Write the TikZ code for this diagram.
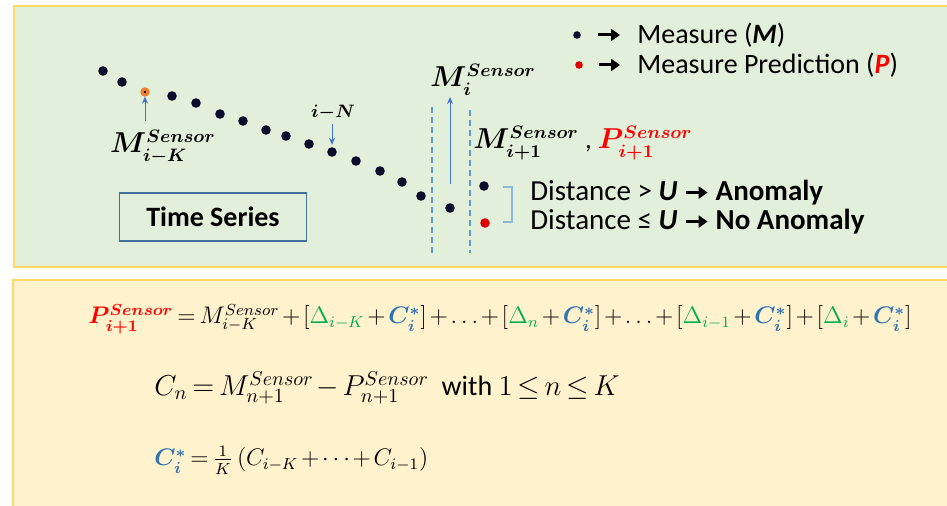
\documentclass[tikz,border=0pt]{standalone}
\usepackage{fontspec}
\setmainfont{Carlito}
\usepackage{amsmath, amssymb}
\usepackage{xcolor}
\definecolor{panelGreen}{HTML}{E2EFDA}
\definecolor{panelYellow}{HTML}{FFF2CC}
\definecolor{panelLine}{HTML}{FFD966}
\definecolor{dotNavy}{HTML}{0B0E2A}
\definecolor{dotRed}{HTML}{E00000}
\definecolor{ringOrange}{HTML}{ED7D31}
\definecolor{arrBlue}{HTML}{4472C4}
\definecolor{dashBlue}{HTML}{5B9BD5}
\definecolor{boxLine}{HTML}{41719C}
\definecolor{deltaGreen}{HTML}{00B050}
\definecolor{cBlue}{HTML}{2E75B6}
\usepackage{tikz}
\usetikzlibrary{arrows.meta, positioning, calc}
\newcommand{\boldarrow}{\tikz[baseline=-0.6ex]\draw[line width=1.5pt,-{Triangle[length=4.5pt,width=6pt]}] (0,0) -- (11pt,0);}
\newcommand{\cstar}{\textcolor{cBlue}{\boldsymbol{C_i^{*}}}}
\newcommand{\dlt}[1]{\textcolor{deltaGreen}{\Delta_{#1}}}
\newcommand{\tightmath}{\medmuskip=2mu\thickmuskip=3mu}

\begin{document}
\begin{tikzpicture}[
				x=0.5pt, y=-0.5pt,
				every node/.style={inner sep=0pt},
				panel/.style={draw=panelLine, line width=1pt},
				dot/.style={circle, fill=dotNavy, minimum size=4.8pt},
				reddot/.style={circle, fill=dotRed, minimum size=4.8pt},
				ringdot/.style={circle, fill=dotNavy, draw=ringOrange, line width=1.6pt, minimum size=3pt},
				pointer/.style={-{Stealth[length=3.5pt,width=3pt]}, arrBlue, line width=0.5pt},
				bigarrow/.style={-{Triangle[length=4.5pt,width=6pt]}, line width=1.5pt},
				mlabel/.style={font=\boldmath\fontsize{13.5}{16}\selectfont},
				sidetext/.style={font=\fontsize{14.5}{17}\selectfont, anchor=west},
				legtext/.style={font=\fontsize{14}{16}\selectfont, anchor=west},
				formula/.style={font=\fontsize{11.5}{14}\selectfont\tightmath, anchor=west}
			]
				\clip (0,0) rectangle (947,506);
				\useasboundingbox (0,0) rectangle (947,506);
				\fill[white] (0,0) rectangle (947,506);
				\draw[panel, fill=panelGreen] (14,6) rectangle (960,267);
				\draw[panel, fill=panelYellow] (13,280) rectangle (960,520);

				\foreach \x/\y/\s [count=\k] in {103/71/dot, 122/82/dot, 145/92/ringdot, 172/96/dot,
				    196/103/dot, 220/114/dot, 243/121/dot, 266/130/dot, 286/136/dot, 309/144/dot,
				    332/152/dot, 356/161/dot, 380/171/dot, 402/182/dot, 421/196/dot, 450/208/dot}
				    \node[\s] (d\k) at (\x,\y) {};
				\node[dot] (mnext) at (484,186) {};
				\node[reddot] (pnext) at (485,223) {};

				\draw[dashBlue, line width=0.6pt, dash pattern=on 3pt off 2pt] (432,107) -- (432,253);
				\draw[dashBlue, line width=0.6pt, dash pattern=on 3pt off 2pt] (470,110) -- (470,253);

				\node[mlabel] (lblK) at (163,147) {$M^{Sensor}_{i-K}$};
				\draw[pointer] (145,121) -- (d3);
				\node[mlabel, font=\boldmath\fontsize{9}{11}\selectfont] (lblN) at (333,113) {$i{-}N$};
				\draw[pointer, shorten <=1.5pt, shorten >=1pt] (lblN.south -| d11) -- (d11);
				\node[mlabel, anchor=west] (lblMi) at (430,80) {$M^{Sensor}_{i}$};
				\coordinate (mtail) at (450,184);
				\draw[pointer] (mtail) -- (450,97);
				\node[mlabel, anchor=west] (lblNext) at (473,143)
				     {$M^{Sensor}_{i+1}$ , \textcolor{red}{$P^{Sensor}_{i+1}$}};

				\draw[dashBlue!70, line width=0.6pt] (503,187) -- (512,187) -- (512,222) -- (503,222);
				\node[sidetext] (anom) at (530,193) {Distance > \textbf{\textit{U}} \boldarrow\ \textbf{Anomaly}};
				\node[sidetext] (noanom) at (530,222) {Distance ≤ \textbf{\textit{U}} \boldarrow\ \textbf{No Anomaly}};

				\node[draw=boxLine, line width=0.7pt, minimum width=93.5pt, minimum height=24pt,
				      font=\bfseries\fontsize{14}{16}\selectfont] (tseries) at (213,217) {Time Series};

				\node[dot, minimum size=3.8pt] (legM) at (577,35) {};
				\node[reddot, minimum size=3.8pt] (legP) at (579,65) {};
				\node[legtext] (legMtxt) at (637,35) {Measure (\textbf{\textit{M}})};
				\node[legtext] (legPtxt) at (637,65) {Measure Prediction (\textcolor{red}{\textbf{\textit{P}}})};
				\draw[bigarrow, shorten <=8.5pt, shorten >=8.5pt] (legM) -- (legMtxt);
				\draw[bigarrow, shorten <=8pt, shorten >=8.5pt] (legP) -- (legPtxt);

				\node[formula] (eqP) at (88,319)
				     {$\textcolor{red}{\boldsymbol{P^{Sensor}_{i+1}}} = M^{Sensor}_{i-K} + [\dlt{i-K} + \cstar] +\ldots+ [\dlt{n} + \cstar] +\ldots+ [\dlt{i-1} + \cstar] + [\dlt{i} + \cstar]$};
				\node[formula, font=\fontsize{14}{17}\selectfont\tightmath] (eqC) at (154,388)
				     {$C_n = M^{Sensor}_{n+1} - P^{Sensor}_{n+1}$\ \ with $1 \le n \le K$};
				\node[formula] (eqCs) at (154,460)
				     {$\cstar = \frac{1}{K}\left(C_{i-K} + \cdots + C_{i-1}\right)$};
			\end{tikzpicture}
\end{document}
